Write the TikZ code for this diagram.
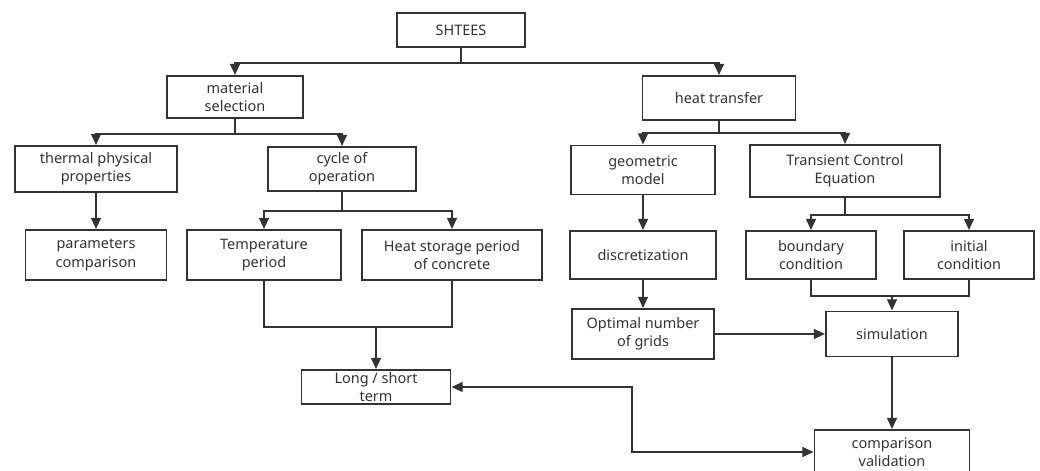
\documentclass[tikz,border=0pt]{standalone}
\usepackage{fontspec}
\setmainfont{Noto Sans}
\usetikzlibrary{arrows.meta, positioning}

\definecolor{ink}{HTML}{333333}

\tikzset{
  box/.style={draw=ink, line width=1.4pt, align=center, inner sep=0pt,
    font=\fontsize{10.3}{13}\selectfont, text=ink},
  sz/.style 2 args={minimum width=#1*0.025cm, minimum height=#2*0.025cm},
  link/.style={draw=ink, line width=1.4pt},
  arr/.style={link, -{Triangle[length=8pt, width=7pt]}},
  biarr/.style={link, {Triangle[length=8pt, width=7pt]}-{Triangle[length=8pt, width=7pt]}}
}

\begin{document}
\begin{tikzpicture}[x=0.025cm, y=-0.025cm]
  \useasboundingbox (0,0) rectangle (1040,471);

  % nodes
  \node [box, sz={128}{34}] (sh) at (461,30) {SHTEES};
  \node [box, sz={136}{42}] (mat) at (235,97) {material\\selection};
  \node [box, sz={153}{44}] (ht) at (719,98) {heat transfer};

  \node [box, sz={162}{46}] (tpp) at (96,169) {thermal physical\\properties};
  \node [box, sz={148}{44}] (cyc) at (342,169) {cycle of\\operation};
  \node [box, sz={144}{49}] (geo) at (643,170) {geometric\\model};
  \node [box, sz={190}{52}] (tce) at (845,171) {Transient Control\\Equation};

  \node [box, sz={141}{50}] (par) at (96,255) {parameters\\comparison};
  \node [box, sz={154}{50}] (tp) at (264,255) {Temperature\\period};
  \node [box, sz={180}{50}] (hs) at (452,255) {Heat storage period\\of concrete};
  \node [box, sz={146}{48}] (dis) at (643,255) {discretization};
  \node [box, sz={130}{48}] (bc) at (811,255) {boundary\\condition};
  \node [box, sz={130}{48}] (ic) at (969,255) {initial\\condition};

  \node [box, sz={142}{50}] (opt) at (643,334) {Optimal number\\of grids};
  \node [box, sz={132}{45}] (sim) at (892,334) {simulation};
  \node [box, sz={149}{34}] (ls) at (376,387) {Long / short\\term};
  \node [box, sz={155}{44}] (cv) at (892,452) {comparison\\validation};

  \coordinate (bend) at (632,420);

  % connections
  \draw [arr] (sh.south) -- ++(0,15) -| (mat.north);
  \draw [arr] (sh.south) -- ++(0,15) -| (ht.north);

  \draw [arr] (mat.south) -- ++(0,15) -| (tpp.north);
  \draw [arr] (mat.south) -- ++(0,15) -| (cyc.north);
  \draw [arr] (tpp) -- (par);
  \draw [arr] (cyc.south) -- ++(0,19) -| (tp.north);
  \draw [arr] (cyc.south) -- ++(0,19) -| (hs.north);

  \draw [link] (tp.south) -- ++(0,46) coordinate (m1) -| (hs.south);
  \draw [arr] (m1 -| ls.north) -- (ls.north);

  \draw [arr] (ht.south) -- ++(0,12) -| (geo.north);
  \draw [arr] (ht.south) -- ++(0,12) -| (tce.north);
  \draw [arr] (geo) -- (dis);
  \draw [arr] (dis) -- (opt);
  \draw [arr] (tce.south) -- ++(0,17) -| (bc.north);
  \draw [arr] (tce.south) -- ++(0,17) -| (ic.north);

  \draw [link] (bc.south) -- ++(0,16) coordinate (m2) -| (ic.south);
  \draw [arr] (m2 -| sim.north) -- (sim.north);

  \draw [arr] (opt) -- (sim);
  \draw [arr] (sim) -- (cv);
  \draw [biarr] (ls.east) -| (bend) |- (cv.west);
\end{tikzpicture}
\end{document}
